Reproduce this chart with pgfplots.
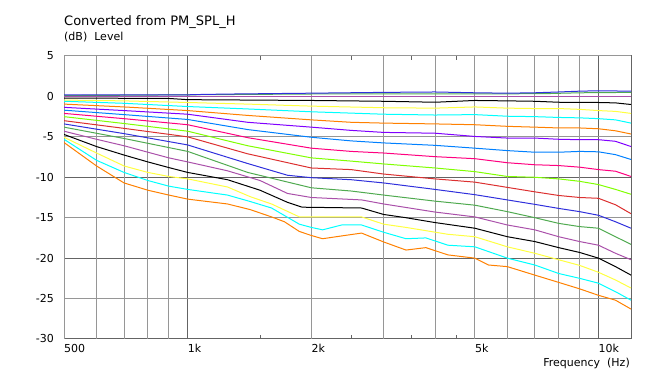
\documentclass[border=0pt]{standalone}
\usepackage{fontspec}
\setmainfont{DejaVu Sans}
\usepackage{pgfplots}
\pgfplotsset{compat=1.18}
\definecolor{gridD}{RGB}{100,100,100}
\definecolor{gridL}{RGB}{150,150,150}
\definecolor{cblue}{RGB}{48,48,220}
\definecolor{cgreen}{RGB}{80,170,80}
\definecolor{cpurple}{RGB}{170,80,170}
\definecolor{cyellow}{RGB}{255,255,64}
\definecolor{ccyan}{RGB}{0,255,255}
\definecolor{corange}{RGB}{255,128,0}
\definecolor{cviolet}{RGB}{128,0,255}
\definecolor{cazure}{RGB}{0,128,255}
\definecolor{cpink}{RGB}{255,0,128}
\definecolor{clime}{RGB}{128,255,0}
\definecolor{cred}{RGB}{220,48,48}
\begin{document}
\begin{tikzpicture}[x=1pt,y=1pt]
\path[use as bounding box] (0,0) rectangle (654,374);
\node[anchor=base west, inner sep=0pt, font=\fontsize{13}{15}\selectfont] at (64,348) {Converted from PM\_SPL\_H};
\node[anchor=base west, inner sep=0pt, font=\fontsize{11}{13}\selectfont] at (64,333) {(dB)\ \ Level};
\node[anchor=base east, inner sep=0pt, font=\fontsize{11}{13}\selectfont] at (630,7) {Frequency\ \ (Hz)};
\begin{axis}[
  at={(64pt,35pt)}, anchor=south west, scale only axis,
  width=567pt, height=283pt,
  xmode=log, xmin=500, xmax=12000, ymin=-30, ymax=5,
  axis line style={draw=gridD, line width=1pt},
  xtick={1000,10000}, xticklabels={1k,10k},
  extra x ticks={500,600,700,800,900,2000,3000,4000,5000,6000,7000,8000,9000},
  extra x tick labels={500,,,,,2k,,,5k,,,,},
  extra x tick style={grid=major, major grid style={draw=gridL, line width=1pt}},
  minor xtick={1500,2500,3500,4500},
  ytick={-30,-20,-10,0}, yticklabels={-30,-20,-10,0},
  extra y ticks={-25,-15,-5,5}, extra y tick labels={-25,-15,-5,5},
  extra y tick style={grid=major, major grid style={draw=gridL, line width=1pt}},
  xmajorgrids, ymajorgrids,
  major grid style={draw=gridD, line width=1pt},
  major tick length=0pt, minor tick length=4pt,
  tick style={draw=gridD, line width=1pt},
  x tick label style={anchor=base west, inner sep=0pt, yshift=-14pt, font=\fontsize{11}{13}\selectfont},
  y tick label style={anchor=east, inner sep=0pt, xshift=-10pt, font=\fontsize{11}{13}\selectfont},
  every axis plot/.append style={line width=1pt, mark=none},
]
\addplot[cgreen] coordinates {(500,0.1)(1000,0.2)(2000,0.3)(5000,0.3)(7500,0.35)(9000,0.45)(12000,0.5)};
\addplot[cblue] coordinates {(500,0.2)(1000,0.2)(1100,0.25)(1300,0.3)(2000,0.4)(3000,0.5)(4000,0.55)(5000,0.45)(6000,0.4)(7000,0.45)(8000,0.55)(9000,0.65)(10000,0.7)(12000,0.65)};
\addplot[cpurple] coordinates {(500,0)(12000,0)};
\addplot[black] coordinates {(500,-0.2)(900,-0.25)(1000,-0.4)(2000,-0.5)(3000,-0.6)(4000,-0.72)(5000,-0.5)(6000,-0.55)(7000,-0.6)(8000,-0.72)(10000,-0.75)(11000,-0.8)(12000,-1.0)};
\addplot[cyellow] coordinates {(500,-0.45)(700,-0.55)(1000,-0.75)(1400,-0.95)(2000,-1.2)(3000,-1.4)(4000,-1.45)(5000,-1.3)(6000,-1.45)(7000,-1.5)(8000,-1.5)(9000,-1.6)(10000,-1.75)(11000,-1.85)(12000,-2.1)};
\addplot[ccyan] coordinates {(500,-0.6)(700,-0.85)(1000,-1.25)(1400,-1.55)(2000,-1.9)(3000,-2.2)(4000,-2.3)(5000,-2.25)(6000,-2.45)(7000,-2.5)(8000,-2.6)(9000,-2.65)(10000,-2.75)(11000,-2.9)(12000,-3.3)};
\addplot[corange] coordinates {(500,-0.95)(700,-1.3)(1000,-1.75)(1400,-2.35)(2000,-2.9)(2500,-3.2)(3000,-3.3)(4000,-3.4)(5000,-3.5)(6000,-3.7)(7000,-3.8)(8000,-3.9)(9000,-3.9)(10000,-4.0)(11000,-4.25)(12000,-4.65)};
\addplot[cviolet] coordinates {(500,-1.35)(700,-1.75)(1000,-2.2)(1400,-3.2)(2000,-3.8)(2500,-4.2)(3000,-4.45)(4000,-4.55)(5000,-4.95)(6000,-5.15)(7000,-5.15)(8000,-5.3)(9000,-5.35)(10000,-5.35)(11000,-5.55)(12000,-6.2)};
\addplot[cazure] coordinates {(500,-1.7)(700,-2.25)(1000,-2.85)(1400,-4.1)(2000,-5.05)(2500,-5.5)(3000,-5.75)(4000,-6.05)(5000,-6.4)(6000,-6.7)(7000,-6.9)(8000,-6.9)(9000,-6.8)(10000,-6.85)(11000,-7.2)(12000,-7.8)};
\addplot[cpink] coordinates {(500,-2.1)(700,-2.75)(1000,-3.5)(1400,-5.1)(2000,-6.4)(2500,-6.8)(3000,-7.0)(4000,-7.45)(5000,-7.7)(6000,-8.2)(7000,-8.45)(8000,-8.55)(9000,-8.75)(10000,-9.05)(11000,-9.25)(12000,-9.9)};
\addplot[clime] coordinates {(500,-2.5)(700,-3.35)(1000,-4.3)(1400,-6.1)(2000,-7.6)(2500,-8.0)(3000,-8.35)(4000,-8.85)(5000,-9.3)(6000,-9.9)(7000,-10.0)(8000,-10.2)(9000,-10.5)(10000,-10.9)(11000,-11.5)(12000,-12.1)};
\addplot[cred] coordinates {(500,-3.0)(700,-3.95)(1000,-5.0)(1400,-7.1)(2000,-8.85)(2500,-9.05)(3000,-9.6)(4000,-10.2)(5000,-10.6)(6000,-11.25)(7000,-11.8)(8000,-12.25)(9000,-12.5)(10000,-12.6)(11000,-13.4)(12000,-14.5)};
\addplot[cblue] coordinates {(500,-3.4)(700,-4.6)(1000,-6.0)(1400,-8.3)(1750,-9.75)(2000,-10.05)(2500,-10.3)(3000,-10.7)(4000,-11.5)(5000,-12.15)(6000,-12.8)(7000,-13.35)(8000,-13.85)(9000,-14.25)(10000,-14.7)(11000,-15.5)(12000,-16.3)};
\addplot[cgreen] coordinates {(500,-3.8)(700,-5.2)(1000,-6.8)(1400,-9.4)(2000,-11.3)(2500,-11.7)(3000,-12.2)(4000,-12.95)(5000,-13.45)(6000,-14.25)(7000,-15.0)(8000,-15.7)(9000,-16.1)(10000,-16.3)(11000,-17.35)(12000,-18.3)};
\addplot[cpurple] coordinates {(500,-4.3)(600,-5.3)(700,-6.1)(800,-6.9)(900,-7.6)(1000,-8.1)(1250,-9.2)(1500,-10.4)(1750,-12.0)(2000,-12.5)(2650,-12.8)(3000,-13.3)(4000,-14.3)(5000,-14.9)(6000,-15.9)(7000,-16.5)(8000,-17.35)(9000,-17.95)(10000,-18.4)(11000,-19.4)(12000,-20.2)};
\addplot[black] coordinates {(500,-4.7)(600,-6.2)(700,-7.25)(800,-8.1)(900,-8.8)(1000,-9.4)(1250,-10.3)(1500,-11.6)(1750,-13.1)(1900,-13.7)(2650,-13.8)(3000,-14.6)(3400,-15.0)(4000,-15.6)(5000,-16.3)(6000,-17.35)(7000,-17.95)(8000,-18.7)(9000,-19.3)(10000,-20.0)(11000,-21.05)(12000,-22.1)};
\addplot[cyellow] coordinates {(500,-5.05)(600,-7.0)(700,-8.6)(800,-9.4)(900,-9.9)(1000,-10.2)(1250,-11.2)(1420,-12.4)(1600,-13.3)(1870,-14.9)(2650,-14.9)(3000,-15.8)(3400,-16.2)(4300,-17.05)(5000,-17.35)(6000,-18.6)(7000,-19.4)(8000,-20.2)(9000,-20.9)(10000,-21.75)(11000,-22.7)(12000,-23.7)};
\addplot[ccyan] coordinates {(500,-5.3)(600,-7.9)(700,-9.4)(800,-10.4)(900,-11.1)(1000,-11.5)(1250,-12.2)(1420,-13.0)(1600,-13.8)(1870,-15.8)(2000,-16.2)(2130,-16.5)(2370,-15.9)(2650,-15.9)(3000,-16.8)(3400,-17.6)(3800,-17.5)(4300,-18.4)(5000,-18.6)(6000,-20.0)(7000,-20.85)(8000,-21.9)(9000,-22.5)(10000,-23.1)(11000,-24.15)(12000,-25.2)};
\addplot[corange] coordinates {(500,-5.7)(600,-8.6)(700,-10.7)(800,-11.6)(900,-12.2)(1000,-12.7)(1250,-13.3)(1420,-14.0)(1600,-14.9)(1720,-15.5)(1870,-16.7)(2000,-17.2)(2130,-17.6)(2300,-17.35)(2650,-16.9)(3000,-18.0)(3400,-19.0)(3800,-18.7)(4300,-19.6)(5000,-20.0)(5400,-20.85)(6000,-21.05)(7000,-22.1)(8000,-23.0)(9000,-23.8)(10000,-24.6)(11000,-25.2)(12000,-26.3)};
\end{axis}
\end{tikzpicture}
\end{document}
